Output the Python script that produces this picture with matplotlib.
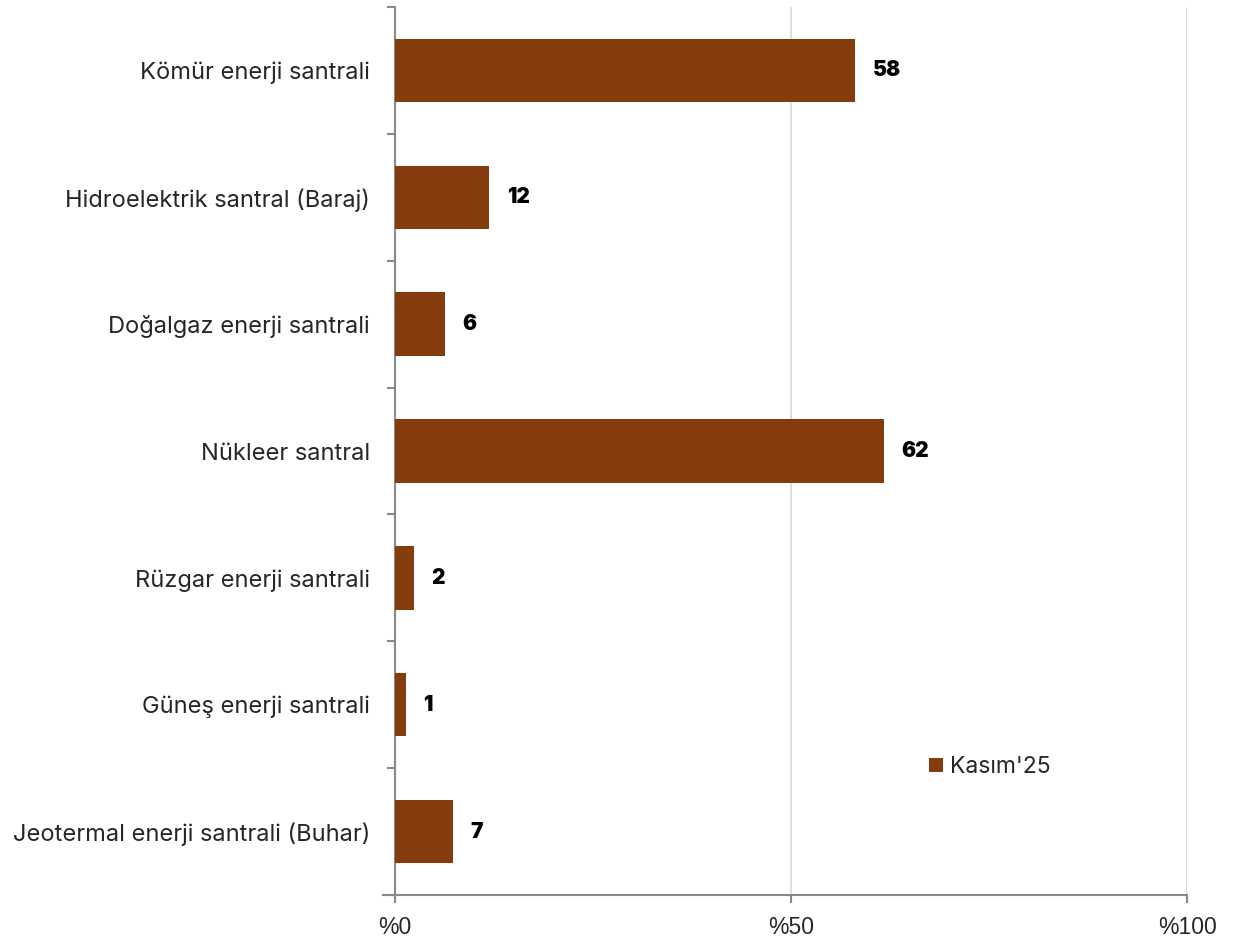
import matplotlib
matplotlib.use("Agg")
import matplotlib.pyplot as plt
from matplotlib import font_manager

categories = ["Kömür enerji santrali", "Hidroelektrik santral (Baraj)", "Doğalgaz enerji santrali",
              "Nükleer santral", "Rüzgar enerji santrali", "Güneş enerji santrali",
              "Jeotermal enerji santrali (Buhar)"]
values = [58.1, 11.9, 6.3, 61.7, 2.4, 1.4, 7.3]
labels = ["58", "12", "6", "62", "2", "1", "7"]
xticks = [0, 50, 100]
xticklabels = ["%0", "%50", "%100"]
series_name = "Kasım'25"

names = {f.name for f in font_manager.fontManager.ttflist}
narrow = "Liberation Sans Narrow" if "Liberation Sans Narrow" in names else "Liberation Sans"

color = "#843C0C"
fig = plt.figure(figsize=(12.34, 9.4), dpi=100)
ax = fig.add_axes([395/1234, 1-895/940, (1187-395)/1234, (895-7)/940])

y = list(range(len(categories)))
ax.barh(y, values, height=0.5, color=color, label=series_name, zorder=3)
ax.set_ylim(len(categories)-0.5, -0.5)
ax.set_xlim(0, 100)

for yi, v, l in zip(y, values, labels):
    ax.text(v + 2.2, yi, l, va="center", ha="left", fontsize=15, fontweight=900,
            family=["Inter", "DejaVu Sans"], color="black")

ax.set_yticks([i - 0.5 for i in range(len(categories) + 1)])
ax.set_yticklabels([])
ax.set_yticks(y, minor=True)
ax.set_yticklabels(categories, minor=True, fontsize=17, family="Inter", color="#262626")
ax.tick_params(axis="y", which="minor", length=0, pad=18)
ax.tick_params(axis="y", which="major", length=6, color="#898989", width=1.5)

ax.set_xticks(xticks)
ax.set_xticklabels(xticklabels, fontsize=16.5, family=narrow, color="#262626")
ax.tick_params(axis="x", length=6, color="#898989", width=1.5, pad=9)

ax.grid(axis="x", color="#d9d9d9", linewidth=1.2, zorder=0)
for s in ["top", "right"]:
    ax.spines[s].set_visible(False)
for s in ["left", "bottom"]:
    ax.spines[s].set_color("#898989")
    ax.spines[s].set_linewidth(1.5)
ax.spines["bottom"].set_bounds(-1.5, 100)

leg = ax.legend(loc="center left", bbox_to_anchor=((929-395)/792, (895-767)/888), frameon=False,
                prop={"family": "Inter", "size": 16.5}, handlelength=0.6, handleheight=0.6,
                handletextpad=0.3, borderpad=0, borderaxespad=0)
for t in leg.get_texts():
    t.set_color("#262626")

fig.savefig("out.png", dpi=100)
